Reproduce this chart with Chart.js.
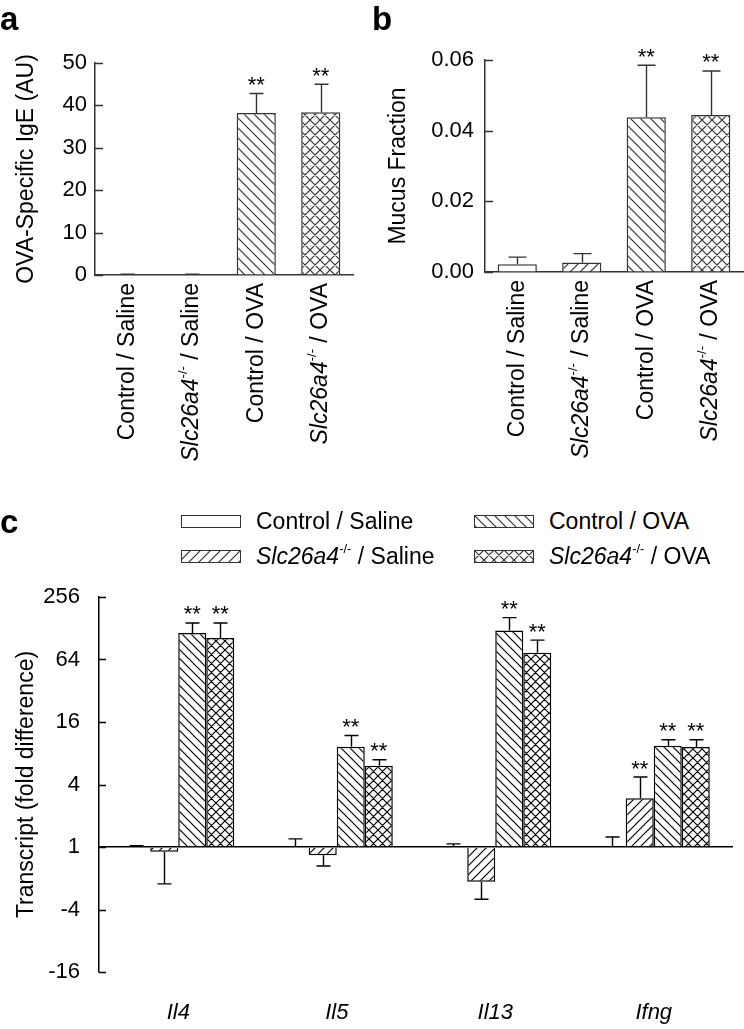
<!DOCTYPE html>
<html>
<head>
<meta charset="utf-8">
<script src="https://cdn.jsdelivr.net/npm/chart.js@4.4.1/dist/chart.umd.min.js"></script>
<style>
  body { margin: 0; background: #fff; font-family: "Liberation Sans", Arial, sans-serif; }
  #page { position: relative; width: 744px; height: 1029px; overflow: hidden; }
  .panel { position: absolute; }
  .tag { position: absolute; font-weight: bold; font-size: 33px; line-height: 1; color: #000; }
  .leg { position: absolute; height: 24px; font-size: 23px; line-height: 1; display: flex; align-items: center; color: #000; white-space: nowrap; }
  .leg canvas { margin-right: 15px; }
  .leg .sup { font-size: 13px; position: relative; top: -8px; }
</style>
</head>
<body>
<div id="page">
  <canvas id="chartA" class="panel" style="left:0;top:0" width="372" height="480"></canvas>
  <canvas id="chartB" class="panel" style="left:372px;top:0" width="372" height="480"></canvas>
  <canvas id="chartC" class="panel" style="left:0;top:560px" width="744" height="469"></canvas>
  <div class="tag" style="left:0;top:2px">a</div>
  <div class="tag" style="left:372px;top:2px">b</div>
  <div class="tag" style="left:0;top:505px">c</div>
  <div class="leg" style="left:181px;top:509px"><canvas id="sw0" width="60" height="13"></canvas>Control / Saline</div>
  <div class="leg" style="left:181px;top:544px"><canvas id="sw1" width="60" height="13"></canvas><i>Slc26a4</i><span class="sup">-/-</span>&nbsp;/ Saline</div>
  <div class="leg" style="left:474px;top:509px"><canvas id="sw2" width="60" height="13"></canvas>Control / OVA</div>
  <div class="leg" style="left:474px;top:544px"><canvas id="sw3" width="60" height="13"></canvas><i>Slc26a4</i><span class="sup">-/-</span>&nbsp;/ OVA</div>
</div>
<script>
// グループ（a, b 共通）
const genotypes = ['Control', 'Slc26a4', 'Control', 'Slc26a4'];
const treatments = ['Saline', 'Saline', 'OVA', 'OVA'];
const groupLabels = genotypes.map((g, i) => g + ' / ' + treatments[i]);

// a: OVA-specific IgE (AU)
const igeMean = [0, 0, 38.2, 38.4];
const igeErr = [0.2, 0.2, 4.6, 6.6];
const igeSig = [false, false, true, true];
const igeTicks = [0, 10, 20, 30, 40, 50];

// b: mucus fraction
const mucusMean = [0.0022, 0.0027, 0.0438, 0.0444];
const mucusErr = [0.0020, 0.0025, 0.0147, 0.0125];
const mucusSig = [false, false, true, true];
const mucusTicks = [0, 0.02, 0.04, 0.06];

// c: transcript, log2 of fold difference (negative = fold decrease)
const genes = ['Il4', 'Il5', 'Il13', 'Ifng'];
const ctrlSaline = [0, 0, 0, 0];
const ctrlSalineErr = [0.04, 0.26, 0.10, 0.32];
const slcSaline = [-0.15, -0.26, -1.11, 1.56];
const slcSalineErr = [1.03, 0.35, 0.56, 0.68];
const ctrlOva = [6.85, 3.21, 6.93, 3.24];
const ctrlOvaErr = [0.32, 0.36, 0.41, 0.19];
const slcOva = [6.69, 2.60, 6.22, 3.20];
const slcOvaErr = [0.48, 0.19, 0.40, 0.23];
const ctrlSalineSig = [false, false, false, false];
const slcSalineSig = [false, false, false, true];
const ctrlOvaSig = [true, true, true, true];
const slcOvaSig = [true, true, true, true];
const foldTicks = [-4, -2, 0, 2, 4, 6, 8];

const FONT = '"Liberation Sans", Arial, sans-serif';
Chart.defaults.font.family = FONT;
Chart.defaults.color = '#000';

// ハッチング用パターン
function makePattern(kind, size, color) {
    const c = document.createElement('canvas');
    c.width = size; c.height = size;
    const g = c.getContext('2d');
    g.fillStyle = '#fff';
    g.fillRect(0, 0, size, size);
    if (kind === 'none') return g.createPattern(c, 'repeat');
    g.strokeStyle = color;
    g.lineWidth = 1.2;
    g.beginPath();
    if (kind === 'back' || kind === 'cross') {
        g.moveTo(-1, -1); g.lineTo(size + 1, size + 1);
        g.moveTo(-1, size - 1); g.lineTo(1, size + 1);
        g.moveTo(size - 1, -1); g.lineTo(size + 1, 1);
    }
    if (kind === 'fwd' || kind === 'cross') {
        g.moveTo(-1, size + 1); g.lineTo(size + 1, -1);
        g.moveTo(-1, 1); g.lineTo(1, -1);
        g.moveTo(size - 1, size + 1); g.lineTo(size + 1, size - 1);
    }
    g.stroke();
    return g.createPattern(c, 'repeat');
}

const kinds = ['none', 'fwd', 'back', 'cross'];

// 凡例の見本
kinds.forEach((k, i) => {
    const cv = document.getElementById('sw' + i);
    const g = cv.getContext('2d');
    g.fillStyle = makePattern(k, 10, '#333');
    g.fillRect(0, 0, cv.width, cv.height);
    g.strokeStyle = '#333';
    g.lineWidth = 1;
    g.strokeRect(0.5, 0.5, cv.width - 1, cv.height - 1);
});

// 内向きの目盛り
const inwardTicks = {
    id: 'inwardTicks',
    afterDraw(chart, args, opts) {
        const s = chart.scales.y;
        const ctx = chart.ctx;
        ctx.save();
        ctx.strokeStyle = opts.color;
        ctx.lineWidth = 1.5;
        ctx.beginPath();
        s.ticks.forEach(t => {
            const y = Math.round(s.getPixelForValue(t.value)) + 0.5;
            ctx.moveTo(s.right, y);
            ctx.lineTo(s.right + opts.length, y);
        });
        ctx.stroke();
        ctx.restore();
    }
};

// エラーバーと有意差の星
const errorBars = {
    id: 'errorBars',
    afterDatasetsDraw(chart, args, opts) {
        const s = chart.scales.y;
        const ctx = chart.ctx;
        chart.data.datasets.forEach((ds, i) => {
            const meta = chart.getDatasetMeta(i);
            meta.data.forEach((bar, j) => {
                const v = ds.data[j];
                const e = ds.errors[j];
                const end = v < 0 ? v - e : v + e;
                const y0 = s.getPixelForValue(v);
                const y1 = s.getPixelForValue(end);
                const x = Math.round(bar.x) + 0.5;
                ctx.save();
                ctx.strokeStyle = opts.color;
                ctx.lineWidth = 1.4;
                ctx.beginPath();
                ctx.moveTo(x, y0); ctx.lineTo(x, y1);
                ctx.moveTo(x - opts.cap / 2, y1); ctx.lineTo(x + opts.cap / 2, y1);
                ctx.stroke();
                if (ds.sig[j]) {
                    ctx.fillStyle = '#000';
                    ctx.font = '22px ' + FONT;
                    ctx.textAlign = 'center';
                    ctx.textBaseline = 'alphabetic';
                    ctx.fillText('**', bar.x, y1 - 1.5);
                }
                ctx.restore();
            });
        });
    }
};

// 縦書きのグループ名（Slc26a4 はイタリック + 上付き）
const rotatedLabels = {
    id: 'rotatedLabels',
    afterDraw(chart, args, opts) {
        const s = chart.scales.x;
        const ctx = chart.ctx;
        chart.data.labels.forEach((label, i) => {
            const [geno, treat] = label.split(' / ');
            const isKo = geno === 'Slc26a4';
            const parts = [
                { t: geno, f: (isKo ? 'italic ' : '') + '23px ' + FONT, dy: 0 },
                { t: isKo ? '-/-' : '', f: '13px ' + FONT, dy: -8 },
                { t: ' / ' + treat, f: '23px ' + FONT, dy: 0 }
            ];
            ctx.save();
            let total = 0;
            parts.forEach(p => { ctx.font = p.f; p.w = ctx.measureText(p.t).width; total += p.w; });
            ctx.translate(s.getPixelForValue(i), s.top + opts.gap);
            ctx.rotate(-Math.PI / 2);
            ctx.fillStyle = '#000';
            ctx.textBaseline = 'middle';
            ctx.textAlign = 'left';
            let x = -total;
            parts.forEach(p => {
                ctx.font = p.f;
                ctx.fillText(p.t, x, p.dy);
                x += p.w;
            });
            ctx.restore();
        });
    }
};

function smallPanel(id, values, errs, sig, ticks, fmt, title, box) {
    const axisColor = '#333';
    return new Chart(document.getElementById(id), {
        type: 'bar',
        data: {
            labels: groupLabels,
            datasets: [{
                data: values,
                errors: errs,
                sig: sig,
                backgroundColor: kinds.map(k => makePattern(k, 10, axisColor)),
                borderColor: axisColor,
                borderWidth: 1.5,
                barPercentage: 0.607,
                categoryPercentage: 1
            }]
        },
        options: {
            responsive: false,
            animation: false,
            devicePixelRatio: 1,
            layout: { padding: { left: 0, right: box.right, top: box.top, bottom: 0 } },
            plugins: {
                legend: { display: false },
                tooltip: { enabled: false },
                inwardTicks: { color: axisColor, length: 8 },
                errorBars: { color: axisColor, cap: box.cap },
                rotatedLabels: { gap: 8 }
            },
            scales: {
                x: {
                    ticks: { display: false },
                    grid: { display: false, drawTicks: false },
                    border: { display: true, color: axisColor, width: 1.5 },
                    afterFit: s => { s.height = box.xHeight; }
                },
                y: {
                    min: ticks[0],
                    max: ticks[ticks.length - 1],
                    afterBuildTicks: s => { s.ticks = ticks.map(v => ({ value: v })); },
                    ticks: {
                        padding: box.tickPad,
                        font: { size: 22 },
                        color: '#000',
                        callback: fmt
                    },
                    grid: { display: true, drawOnChartArea: false, drawTicks: false },
                    border: { display: true, color: axisColor, width: 1.5 },
                    title: { display: true, text: title, font: { size: 23 }, color: '#000', padding: { top: 13, bottom: 0 } },
                    afterFit: s => { s.width = box.yWidth; }
                }
            }
        },
        plugins: [inwardTicks, errorBars, rotatedLabels]
    });
}

smallPanel('chartA', igeMean, igeErr, igeSig, igeTicks, v => String(v), 'OVA-Specific IgE (AU)',
    { top: 63, right: 19, yWidth: 95, xHeight: 205, tickPad: 8, cap: 14 });
smallPanel('chartB', mucusMean, mucusErr, mucusSig, mucusTicks, v => Number(v).toFixed(2), 'Mucus Fraction',
    { top: 60, right: 1, yWidth: 113, xHeight: 208, tickPad: 11, cap: 18 });

// c: 遺伝子ごとの発現量
const seriesC = [
    { data: ctrlSaline, errors: ctrlSalineErr, sig: ctrlSalineSig, kind: 'none' },
    { data: slcSaline, errors: slcSalineErr, sig: slcSalineSig, kind: 'fwd' },
    { data: ctrlOva, errors: ctrlOvaErr, sig: ctrlOvaSig, kind: 'back' },
    { data: slcOva, errors: slcOvaErr, sig: slcOvaSig, kind: 'cross' }
];

new Chart(document.getElementById('chartC'), {
    type: 'bar',
    data: {
        labels: genes,
        datasets: seriesC.map(s => ({
            data: s.data,
            errors: s.errors,
            sig: s.sig,
            backgroundColor: makePattern(s.kind, 9, '#000'),
            borderColor: '#000',
            borderWidth: 1.5,
            barPercentage: 1,
            categoryPercentage: 0.707
        }))
    },
    options: {
        responsive: false,
        animation: false,
        devicePixelRatio: 1,
        layout: { padding: { left: 0, right: 11, top: 37, bottom: 0 } },
        plugins: {
            legend: { display: false },
            tooltip: { enabled: false },
            inwardTicks: { color: '#000', length: 7 },
            errorBars: { color: '#000', cap: 14 }
        },
        scales: {
            x: {
                ticks: { padding: 28, font: { size: 22, style: 'italic' }, color: '#000' },
                grid: { display: false, drawTicks: false },
                border: { display: false },
                afterFit: s => { s.height = 57; }
            },
            y: {
                min: -4,
                max: 8,
                afterBuildTicks: s => { s.ticks = foldTicks.map(v => ({ value: v })); },
                ticks: {
                    padding: 19,
                    font: { size: 22 },
                    color: '#000',
                    // log2 → fold（負は減少倍率）
                    callback: v => v >= 0 ? String(Math.pow(2, v)) : String(-Math.pow(2, -v))
                },
                grid: {
                    drawOnChartArea: true,
                    drawTicks: false,
                    color: c => c.tick && c.tick.value === 0 ? '#000' : 'rgba(0,0,0,0)',
                    lineWidth: 1.5
                },
                border: { display: true, color: '#000', width: 1.5 },
                title: { display: true, text: 'Transcript (fold difference)', font: { size: 23 }, color: '#000', padding: { top: 13, bottom: 0 } },
                afterFit: s => { s.width = 99; }
            }
        }
    },
    plugins: [inwardTicks, errorBars]
});
</script>
</body>
</html>
